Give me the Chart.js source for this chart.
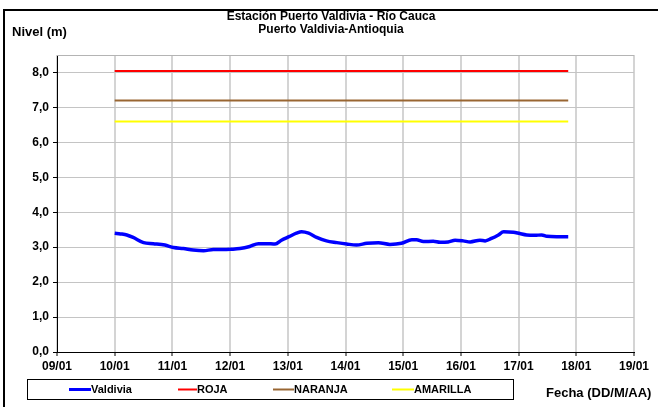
<!DOCTYPE html>
<html>
<head>
<meta charset="utf-8">
<script src="https://cdn.jsdelivr.net/npm/chart.js@4/dist/chart.umd.min.js"></script>
<style>
html,body{margin:0;padding:0;background:#fff;}
#wrap{position:relative;width:658px;height:407px;}
canvas{display:block;}
</style>
</head>
<body>
<div id="wrap"><canvas id="c" width="658" height="407"></canvas></div>
<script>
// Tick labels for the x axis (days since 09/01)
const dayLabels = ['09/01','10/01','11/01','12/01','13/01','14/01','15/01','16/01','17/01','18/01','19/01'];
const yTicks = [0,1,2,3,4,5,6,7,8];

// Valdivia series: time (days after 09/01) and level (m)
const valdiviaTime  = [1.00,1.10,1.21,1.32,1.50,1.67,1.87,2.02,2.19,2.36,2.54,2.71,2.88,3.02,3.17,3.34,3.49,3.63,3.78,3.89,4.02,4.15,4.24,4.36,4.50,4.67,4.85,5.02,5.19,5.37,5.57,5.77,5.97,6.15,6.23,6.35,6.52,6.64,6.78,6.90,7.04,7.16,7.33,7.42,7.53,7.65,7.74,7.91,8.02,8.14,8.28,8.40,8.49,8.66,8.86];
const valdiviaLevel = [3.40,3.38,3.35,3.28,3.13,3.10,3.06,2.99,2.96,2.92,2.90,2.93,2.93,2.94,2.96,3.02,3.10,3.10,3.09,3.20,3.30,3.40,3.44,3.40,3.28,3.18,3.13,3.09,3.06,3.11,3.13,3.08,3.11,3.21,3.21,3.16,3.17,3.14,3.15,3.20,3.18,3.15,3.20,3.18,3.25,3.35,3.44,3.43,3.39,3.35,3.34,3.35,3.31,3.30,3.30];

// Alert thresholds
const thresholdTime = [1.00, 8.86];
const roja     = [8.04, 8.04];
const naranja  = [7.20, 7.20];
const amarilla = [6.60, 6.60];

const seriesNames = ['Valdivia','ROJA','NARANJA','AMARILLA'];
const seriesColors = ['#0000ff','#ff0000','#996633','#ffff00'];

const pts = (xs, ys) => xs.map((x,i)=>({x:x, y:ys[i]}));
const FONT = '"Liberation Sans", Arial, sans-serif';

const framePlugin = {
  id:'frame',
  beforeDraw(chart){
    const c = chart.ctx;
    c.save();
    c.fillStyle = '#fff';
    c.fillRect(0,0,chart.width,chart.height);
    c.restore();
  },
  afterDraw(chart){
    const c = chart.ctx;
    const a = chart.chartArea;
    c.save();
    // plot area top border
    c.strokeStyle = '#b4b4b4';
    c.lineWidth = 1;
    c.beginPath();
    c.moveTo(a.left, a.top + 0.5);
    c.lineTo(a.right, a.top + 0.5);
    c.stroke();
    // outer frame (top & left)
    c.strokeStyle = '#000';
    c.lineWidth = 2;
    c.beginPath();
    c.moveTo(4, 407);
    c.lineTo(4, 10);
    c.lineTo(658, 10);
    c.stroke();
    // titles
    c.fillStyle = '#000';
    c.textBaseline = 'middle';
    c.textAlign = 'center';
    c.font = 'bold 12px ' + FONT;
    c.fillText('Estación Puerto Valdivia - Río Cauca', 331, 17);
    c.fillText('Puerto Valdivia-Antioquia', 331, 30);
    c.textAlign = 'left';
    c.font = 'bold 13px ' + FONT;
    c.fillText('Nivel (m)', 12, 32);
    c.fillText('Fecha (DD/M/AA)', 546, 393);
    // legend box
    c.strokeStyle = '#000';
    c.lineWidth = 1;
    c.strokeRect(27.5, 379.5, 486, 20);
    const items = [[69,91],[178,197],[273,294],[392,414]];
    c.font = 'bold 11px ' + FONT;
    items.forEach((it,i)=>{
      c.strokeStyle = seriesColors[i];
      c.lineWidth = i===0 ? 3 : 2;
      c.beginPath();
      c.moveTo(it[0], 389.5);
      c.lineTo(it[1], 389.5);
      c.stroke();
      c.fillStyle = '#000';
      c.fillText(seriesNames[i], it[1], 390);
    });
    c.restore();
  }
};

new Chart(document.getElementById('c'), {
  type:'line',
  data:{
    datasets:[
      {label:seriesNames[0], data:pts(valdiviaTime, valdiviaLevel), borderColor:seriesColors[0], borderWidth:3.5, pointRadius:0, cubicInterpolationMode:'monotone', order:0},
      {label:seriesNames[1], data:pts(thresholdTime, roja), borderColor:seriesColors[1], borderWidth:2, pointRadius:0, order:1},
      {label:seriesNames[2], data:pts(thresholdTime, naranja), borderColor:seriesColors[2], borderWidth:2, pointRadius:0, order:2},
      {label:seriesNames[3], data:pts(thresholdTime, amarilla), borderColor:seriesColors[3], borderWidth:2, pointRadius:0, order:3}
    ]
  },
  options:{
    responsive:false,
    animation:false,
    devicePixelRatio:1,
    layout:{padding:{left:0,right:24,top:55,bottom:0}},
    plugins:{legend:{display:false}, title:{display:false}, tooltip:{enabled:false}},
    scales:{
      x:{
        type:'linear', min:0, max:dayLabels.length-1,
        afterFit(s){ s.height = 55; },
        afterBuildTicks(s){ s.ticks = dayLabels.map((_,i)=>({value:i})); },
        ticks:{autoSkip:false, maxRotation:0, padding:3, color:'#000', font:{family:FONT, size:12, weight:'bold'}, callback:(v)=>dayLabels[v]},
        grid:{color:'#d4d4d4', lineWidth:2, tickColor:'#000', tickLength:4, tickWidth:1},
        border:{display:true, color:'#000', width:1}
      },
      y:{
        min:0, max:8.5,
        afterFit(s){ s.width = 57; },
        afterBuildTicks(s){ s.ticks = yTicks.map(v=>({value:v})); },
        ticks:{padding:4, color:'#000', font:{family:FONT, size:12, weight:'bold'}, callback:(v)=>v.toFixed(1).replace('.',',')},
        grid:{color:'#c4c4c4', lineWidth:1, tickColor:'#000', tickLength:4},
        border:{display:true, color:'#000', width:1}
      }
    }
  },
  plugins:[framePlugin]
});
</script>
</body>
</html>
